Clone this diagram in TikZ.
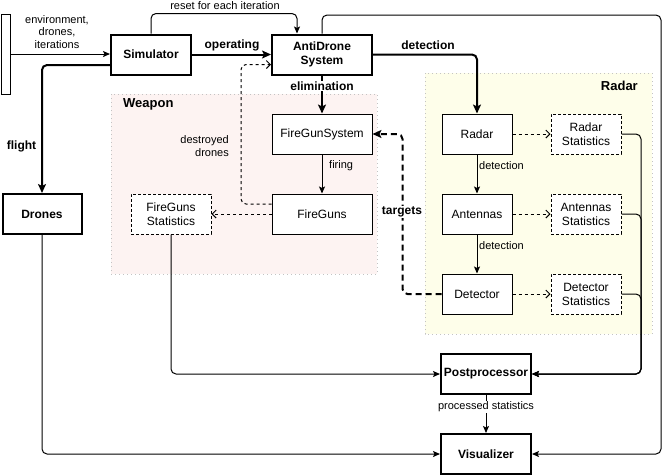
\documentclass[tikz,border=0pt]{standalone}
\usepackage{fontspec}
\setmainfont{Liberation Sans}
\usetikzlibrary{arrows.meta}
\definecolor{pinkfill}{RGB}{253,243,242}
\definecolor{yellowfill}{RGB}{254,254,234}
\definecolor{grpborder}{RGB}{195,195,195}
\tikzset{
  box/.style={draw, fill=white, line width=1pt, minimum height=40pt, inner sep=1pt, align=center, font=\fontsize{12}{14}\selectfont},
  thickbox/.style={box, line width=2pt, font=\fontsize{12}{14}\selectfont\bfseries},
  statbox/.style={box, dash pattern=on 3pt off 2pt},
  group/.style={draw=grpborder, line width=1pt, dash pattern=on 1pt off 3pt},
  conn/.style={line width=1pt, rounded corners=5pt, -{Stealth[length=7pt,width=6pt,inset=1.5pt]}},
  thickconn/.style={line width=2pt, rounded corners=5pt, -{Stealth[length=9pt,width=8pt,inset=2pt]}},
  openconn/.style={line width=1pt, dash pattern=on 3pt off 3pt, rounded corners=5pt, -{Straight Barb[length=4pt,width=8pt]}},
  plainconn/.style={line width=1pt, rounded corners=5pt},
  lbl/.style={inner sep=1pt, font=\fontsize{11}{12.5}\selectfont, align=center},
  blbl/.style={inner sep=1pt, font=\fontsize{12}{14}\selectfont\bfseries},
  grplbl/.style={inner sep=0pt, font=\fontsize{13}{15}\selectfont\bfseries}
}
\begin{document}
\begin{tikzpicture}[x=1pt,y=-1pt]
\useasboundingbox (0,0) rectangle (670,475);
\fill[white] (0,0) rectangle (670,475);

% groups
\draw[group, fill=pinkfill] (111,94) rectangle (377,274);
\draw[group, fill=yellowfill] (425,73) rectangle (652,334);
\node[grplbl, anchor=west] (weaponlbl) at (123,104) {Weapon};
\node[grplbl, anchor=east] (radarlbl) at (638,86) {Radar};

% nodes
\node[draw, line width=1pt, minimum width=9pt, minimum height=80pt, inner sep=0pt] (bar) at (6,54) {};
\node[thickbox, minimum width=80pt] (sim) at (151,54.5) {Simulator};
\node[thickbox, minimum width=100pt] (ads) at (322,54.5) {AntiDrone\\System};
\node[thickbox, minimum width=79pt] (drones) at (42,214) {Drones};
\node[box, minimum width=100pt] (fgs) at (322,134) {FireGunSystem};
\node[box, minimum width=100pt] (fg) at (322,214) {FireGuns};
\node[statbox, minimum width=80pt] (fgstat) at (171,214) {FireGuns\\Statistics};
\node[box, minimum width=70pt] (radar) at (477,134) {Radar};
\node[box, minimum width=70pt] (ant) at (477,214) {Antennas};
\node[box, minimum width=70pt] (det) at (477,294) {Detector};
\node[statbox, minimum width=70pt] (rstat) at (586,134) {Radar\\Statistics};
\node[statbox, minimum width=70pt] (astat) at (586,214) {Antennas\\Statistics};
\node[statbox, minimum width=70pt] (dstat) at (586,294) {Detector\\Statistics};
\node[thickbox, minimum width=90pt] (pp) at (486,374) {Postprocessor};
\node[thickbox, minimum width=90pt] (vis) at (486,454) {Visualizer};

\coordinate (loopTR) at (661,15);
\coordinate (statbus) at (641,374);

% connectors
\draw[conn] (bar.east) -- (bar.east -| sim.west);
\node[lbl] (envlbl) at (57,32) {environment,\\drones,\\iterations};

\draw[conn] (sim.north) |- ([xshift=-25pt,yshift=20pt]ads.north) -- ([xshift=-25pt]ads.north);
\node[lbl] (resetlbl) at (225,6) {reset for each iteration};

\draw[thickconn] (sim.east) -- (ads.west);
\node[blbl] (oplbl) at (232,45) {operating};

\draw[conn] (ads.north) |- (loopTR) |- (vis.east);

\draw[thickconn] (ads.east) -| (radar.north);
\node[blbl] (detlbl) at (428,45) {detection};

\draw[thickconn] (ads.south) -- (fgs.north);
\node[blbl, fill=white] (elimlbl) at (322,86) {elimination};

\draw[conn] (fgs.south) -- (fg.north);
\node[lbl, anchor=west] (firelbl) at (328,166) {firing};

\draw[openconn] (fg.west) -- (fgstat.east);
\draw[openconn] ([yshift=10pt]fg.west) -| ([xshift=-30pt,yshift=-10pt]ads.west) -- ([yshift=-10pt]ads.west);
\node[lbl, anchor=east, align=right] (destlbl) at (230,146) {destroyed\\drones};

\draw[thickconn, dash pattern=on 6pt off 4pt] (det.west) -| ([xshift=30pt]fgs.east) -- (fgs.east);
\node[blbl, fill=white] (targlbl) at (402,212) {targets};

\draw[conn] (radar.south) -- (ant.north);
\node[lbl, anchor=west] (d1lbl) at (478,166) {detection};
\draw[conn] (ant.south) -- (det.north);
\node[lbl, anchor=west] (d2lbl) at (478,246) {detection};

\draw[openconn] (radar.east) -- (rstat.west);
\draw[openconn] (ant.east) -- (astat.west);
\draw[openconn] (det.east) -- (dstat.west);

\draw[conn] (rstat.east) -| (statbus) -- (pp.east);
\draw[conn] (astat.east) -| (statbus) -- (pp.east);
\draw[conn] (dstat.east) -| (statbus) -- (pp.east);

\draw[conn] (fgstat.south) |- (pp.west);
\draw[conn] (drones.south) |- (vis.west);

\draw[thickconn] ([yshift=-10.5pt]sim.west) -| (drones.north);
\node[blbl] (flightlbl) at (21.5,146) {flight};

\draw[conn] (pp.south) -- (vis.north);
\node[lbl, fill=white] (pslbl) at (486,407) {processed statistics};
\end{tikzpicture}
\end{document}
